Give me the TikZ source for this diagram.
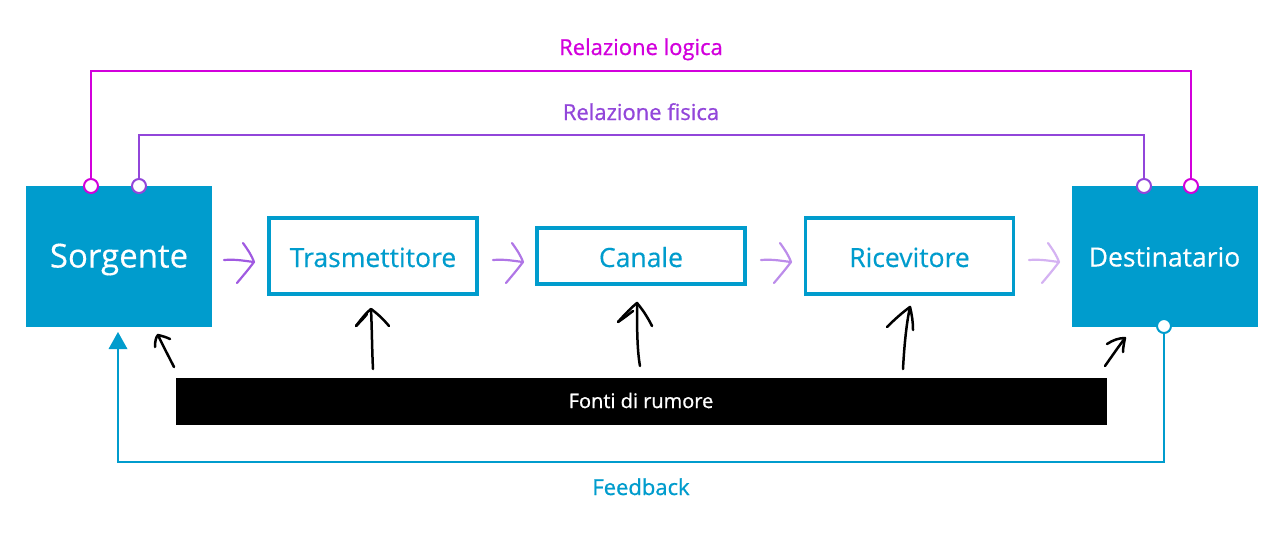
\documentclass[tikz,border=0pt]{standalone}
\usepackage{fontspec}
\setmainfont{Open Sans}
\newfontfamily\semib[FakeBold=0.8]{Open Sans}
\newfontfamily\medf[FakeBold=0.4]{Open Sans}
\definecolor{cblue}{RGB}{0,156,205}
\definecolor{cmag}{RGB}{210,0,220}
\definecolor{cpur}{RGB}{146,70,218}
\definecolor{pa}{RGB}{160,90,225}
\definecolor{pb}{RGB}{176,118,230}
\definecolor{pc}{RGB}{188,140,234}
\definecolor{pd}{RGB}{212,178,242}
\tikzset{
  solidbox/.style={fill=cblue, draw=none, text=white, inner sep=0pt, text depth=0pt, minimum width=186pt, minimum height=141pt},
  framebox/.style={draw=cblue, line width=3.5pt, fill=white, text=cblue, inner sep=0pt, minimum width=208pt, minimum height=76pt, text height=22pt, text depth=0pt, font=\medf\fontsize{26.5}{30}\selectfont},
  port/.style={circle, draw=#1, fill=white, line width=2pt, minimum size=14pt, inner sep=0pt},
  conn/.style={line width=2pt, #1},
  hand/.style={line width=2.5pt, black, line cap=round, line join=round},
  pen/.style={line width=2.2pt, #1, line cap=round, line join=round},
  lbl/.style={font=\semib\fontsize{22}{26}\selectfont, inner sep=0pt, anchor=base}
}
\begin{document}
\begin{tikzpicture}[x=1pt,y=-1pt]
\useasboundingbox (0,0) rectangle (1280,536);
% main boxes
\node[solidbox, text height=23pt, font=\medf\fontsize{33}{40}\selectfont] (src) at (119,256) {Sorgente};
\node[solidbox, text height=21pt, font=\medf\fontsize{26.5}{30}\selectfont] (dst) at (1164.5,256) {Destinatario};
\node[framebox] (tx) at (373,256) {Trasmettitore};
\node[framebox, minimum height=56pt] (ch) at (641,256) {Canale};
\node[framebox] (rx) at (909.5,256) {Ricevitore};
% noise bar
\node[fill=black, minimum width=931pt, minimum height=47pt, inner sep=0pt] (noise) at (641.5,401.5) {};
\node[lbl, text=white, font=\semib\fontsize{20}{24}\selectfont] (noiselab) at (641,408) {Fonti di rumore};
% ports
\node[port=cmag] (sl) at (91,186) {};
\node[port=cpur] (sf) at (139,186) {};
\node[port=cpur] (df) at (1144,186) {};
\node[port=cmag] (dl) at (1191,186) {};
\node[port=cblue] (fb) at (1164,326) {};
% relation lines
\coordinate (ltop) at (641,71);
\coordinate (ftop) at (641,135);
\draw[conn=cmag] (sl.north) |- (ltop) -| (dl.north);
\draw[conn=cpur] (sf.north) |- (ftop) -| (df.north);
\node[lbl, text=cmag] (llab) at (641,55) {Relazione logica};
\node[lbl, text=cpur] (flab) at (641,120) {Relazione fisica};
% feedback
\coordinate (fbot) at (641,462);
\coordinate (ftip) at (118,332);
\draw[conn=cblue] (fb.south) |- (fbot) -| (118,349);
\fill[cblue] (ftip) -- (127.5,349) -- (108.5,349) -- cycle;
\node[lbl, text=cblue] (fblab) at (641,495) {Feedback};
% purple hand arrows between boxes
\begin{scope}[shift={(0,0)}]
\draw[pen=pa] (224,260) .. controls (236,259) and (245,261) .. (254,262);
\draw[pen=pa] (243,243) .. controls (248,250) and (252,256) .. (254,262) .. controls (248,270) and (242,277) .. (237,283);
\end{scope}
\begin{scope}[shift={(269,0)}]
\draw[pen=pb] (224,260) .. controls (236,259) and (245,261) .. (254,262);
\draw[pen=pb] (243,243) .. controls (248,250) and (252,256) .. (254,262) .. controls (248,270) and (242,277) .. (237,283);
\end{scope}
\begin{scope}[shift={(537,0)}]
\draw[pen=pc] (224,260) .. controls (236,259) and (245,261) .. (254,262);
\draw[pen=pc] (243,243) .. controls (248,250) and (252,256) .. (254,262) .. controls (248,270) and (242,277) .. (237,283);
\end{scope}
\begin{scope}[shift={(805,0)}]
\draw[pen=pd] (224,260) .. controls (236,259) and (245,261) .. (254,262);
\draw[pen=pd] (243,243) .. controls (248,250) and (252,256) .. (254,262) .. controls (248,270) and (242,277) .. (237,283);
\end{scope}
% black hand arrows from noise
\draw[hand] (174,367) .. controls (168,355) and (162,344) .. (158,335);
\draw[hand] (155,347) .. controls (155,341) and (156,337) .. (158,335) .. controls (162,336) and (166,337) .. (170,339);
\draw[hand] (373,369) .. controls (372,350) and (372,330) .. (371,309);
\draw[hand] (356,326) .. controls (362,318) and (367,312) .. (371,309) .. controls (378,314) and (384,320) .. (389,326);
\draw[hand] (356,326) .. controls (360,322) and (364,318) .. (367,314);
\draw[hand] (640,366) .. controls (637,350) and (637,325) .. (637,303);
\draw[hand] (618,322) .. controls (625,314) and (632,307) .. (637,303) .. controls (643,310) and (648,318) .. (652,326);
\draw[hand] (618,322) .. controls (624,318) and (629,314) .. (633,311);
\draw[hand] (903,369) .. controls (904,350) and (906,325) .. (910,307);
\draw[hand] (887,327) .. controls (895,319) and (903,312) .. (910,307) .. controls (912,315) and (913,322) .. (913,330);
\draw[hand] (1105,366) .. controls (1112,356) and (1119,346) .. (1125,338);
\draw[hand] (1107,344) .. controls (1113,340) and (1119,338) .. (1125,338) .. controls (1124,343) and (1123,348) .. (1123,352);
\end{tikzpicture}
\end{document}
